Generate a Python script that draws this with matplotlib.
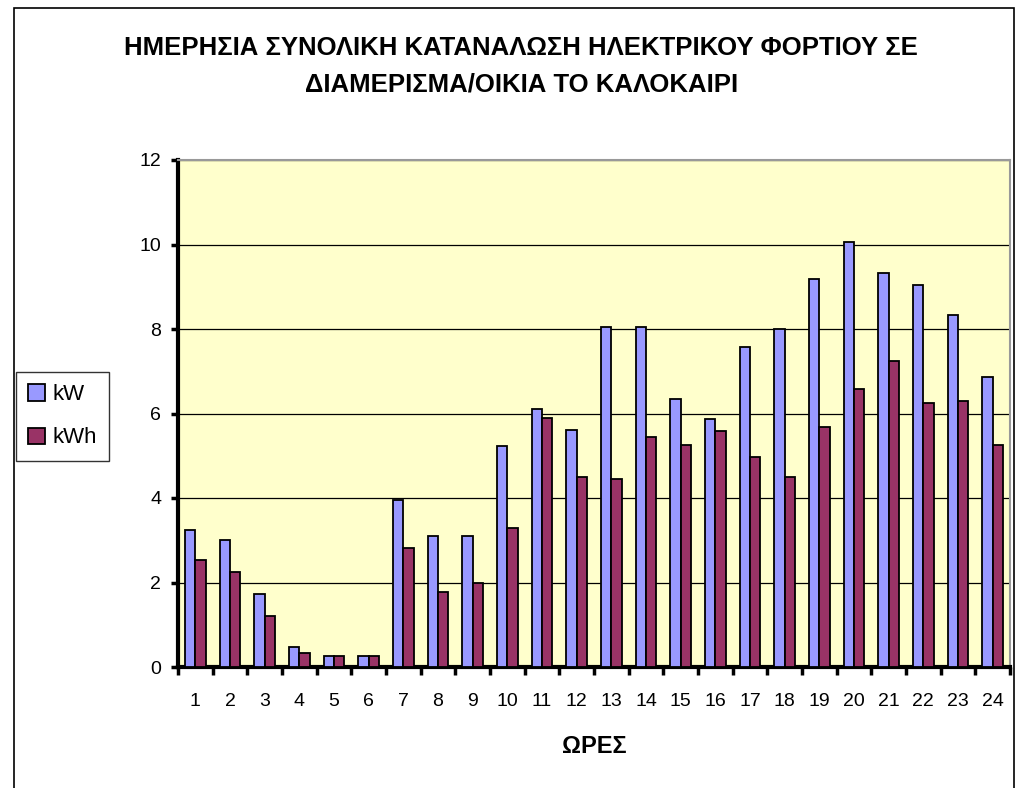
import numpy as np
import matplotlib
matplotlib.use("Agg")
from matplotlib import pyplot as plt
from matplotlib.patches import Rectangle

plt.rcParams['font.family'] = ['Liberation Sans', 'DejaVu Sans']

hours = list(range(1, 25))
kw = [3.24, 3.00, 1.72, 0.48, 0.25, 0.25, 3.96, 3.10, 3.10, 5.24, 6.10, 5.62,
      8.05, 8.05, 6.35, 5.87, 7.58, 8.00, 9.19, 10.05, 9.33, 9.04, 8.33, 6.87]
kwh = [2.53, 2.25, 1.20, 0.34, 0.25, 0.25, 2.81, 1.77, 1.98, 3.29, 5.90, 4.49,
       4.46, 5.45, 5.26, 5.59, 4.97, 4.50, 5.68, 6.57, 7.24, 6.25, 6.30, 5.26]

title = "ΗΜΕΡΗΣΙΑ ΣΥΝΟΛΙΚΗ ΚΑΤΑΝΑΛΩΣΗ ΗΛΕΚΤΡΙΚΟΥ ΦΟΡΤΙΟΥ ΣΕ\nΔΙΑΜΕΡΙΣΜΑ/ΟΙΚΙΑ ΤΟ ΚΑΛΟΚΑΙΡΙ"

fig = plt.figure(figsize=(10.2, 7.88), dpi=100)
ax = fig.add_axes([178/1020, 1-667/788, (1010-178)/1020, (667-160)/788])
ax.set_facecolor('#FFFFCC')

x = np.arange(len(hours))
w = 0.295
ax.bar(x - w/2, kw, w, color='#9999FF', edgecolor='black', linewidth=1.3, label='kW', zorder=3)
ax.bar(x + w/2, kwh, w, color='#993366', edgecolor='black', linewidth=1.3, label='kWh', zorder=3)

ax.set_xlim(-0.5, len(hours) - 0.5)
ax.set_ylim(0, 12)
ax.set_yticks(range(0, 13, 2))
ax.yaxis.grid(True, color='black', linewidth=0.9, zorder=0)
ax.set_axisbelow(True)

ax.set_xticks(x)
ax.set_xticklabels([str(h) for h in hours], fontsize=14)
ax.tick_params(axis='x', length=0, pad=19)
ax.set_xticks(np.arange(-0.5, len(hours), 1), minor=True)
ax.tick_params(axis='x', which='minor', length=6, width=2.5, direction='out')
ax.tick_params(axis='y', labelsize=14, length=5, width=2.5, direction='out', pad=7)

for s in ['left', 'bottom']:
    ax.spines[s].set_linewidth(3)
for s in ['top', 'right']:
    ax.spines[s].set_color('#999999')
    ax.spines[s].set_linewidth(1.5)

ax.set_xlabel("ΩΡΕΣ", fontsize=17, fontweight='bold', labelpad=18)

fig.text(0.511, 1-66/788, title, ha='center', va='center', fontsize=18.5,
         fontweight='bold', linespacing=1.68)

leg = fig.legend(loc='upper left', bbox_to_anchor=(16/1020, 1-372/788),
                 fontsize=16, frameon=True, fancybox=False, edgecolor='black',
                 handlelength=0.75, handleheight=0.75, handletextpad=0.35,
                 labelspacing=1.0, borderpad=0.55, borderaxespad=0)
leg.get_frame().set_linewidth(1)

fig.patches.append(Rectangle((14/1020, -0.01), 1000/1020, 1-8/788 + 0.01,
                             transform=fig.transFigure, fill=False,
                             edgecolor='black', linewidth=1.2))

fig.savefig("out.png", dpi=100)
